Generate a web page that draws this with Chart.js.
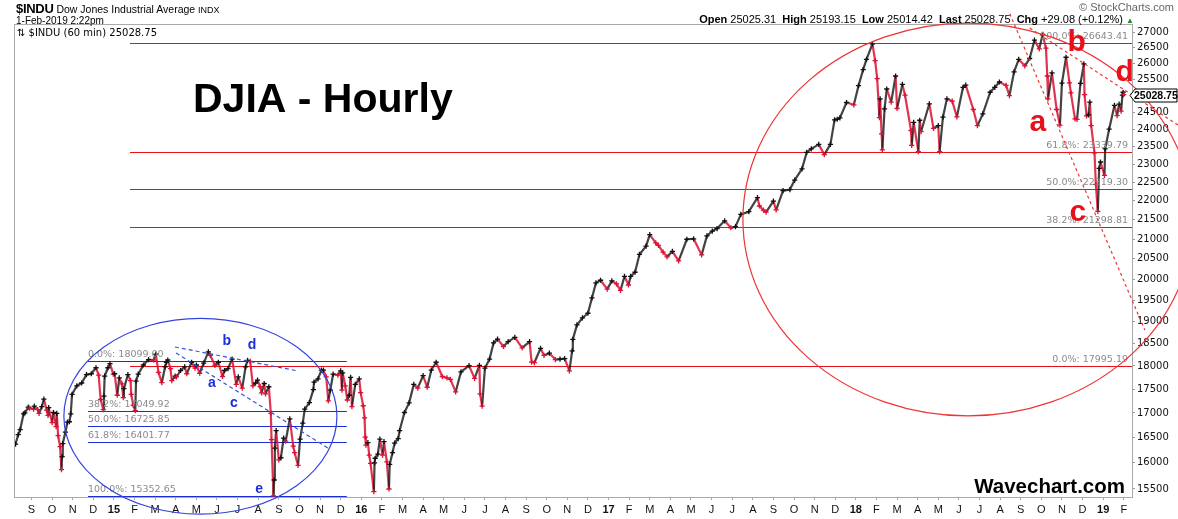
<!DOCTYPE html>
<html>
<head>
<meta charset="utf-8">
<title>DJIA - Hourly</title>
<script src="https://cdn.jsdelivr.net/npm/chart.js@4.4.1/dist/chart.umd.min.js"></script>
<style>
  html, body { margin: 0; padding: 0; background: #fff; }
  #wrap { position: relative; width: 1178px; height: 519px; overflow: hidden; font-family: "Liberation Sans", Arial, sans-serif; }
  #chart { position: absolute; left: 0; top: 0; }
  .hdr { position: absolute; white-space: nowrap; color: #000; line-height: 1; }
</style>
</head>
<body>
<div id="wrap">
  <canvas id="chart" width="1178" height="519"></canvas>
  <div class="hdr" style="left:16px;top:2px;font-size:10.5px;"><b style="font-size:13px;letter-spacing:-0.3px;">$INDU</b> Dow Jones Industrial Average <span style="font-size:9px;">INDX</span></div>
  <div class="hdr" style="left:16px;top:16px;font-size:10px;">1-Feb-2019 2:22pm</div>
  <div class="hdr" style="right:4px;top:2px;font-size:11px;color:#666;">© StockCharts.com</div>
  <div class="hdr" style="right:44px;top:14px;font-size:11px;"><b>Open</b> 25025.31&nbsp; <b>High</b> 25193.15&nbsp; <b>Low</b> 25014.42&nbsp; <b>Last</b> 25028.75&nbsp; <b>Chg</b> +29.08 (+0.12%) <span style="color:#2a8a2a;font-size:8px;">▲</span></div>
  <div class="hdr" style="left:17px;top:28px;font-size:10px;font-family:'DejaVu Sans',sans-serif;">⇅ $INDU (60 min) 25028.75</div>
</div>
<script>
// hourly closes, by year (MM-DD / price)
const days2014 = ['08-08','08-12','08-15','08-20','08-22','08-27','08-29',
  '09-04','09-05','09-10','09-12','09-16','09-19','09-23','09-25','09-26',
  '10-01','10-03','10-07','10-08','10-10','10-13','10-15','10-16','10-17','10-21','10-24','10-27','10-29','10-31',
  '11-07','11-14','11-21','11-28',
  '12-05','12-09','12-12','12-16','12-17','12-18','12-23','12-26','12-31'];
const prices2014 = [16370,16560,16660,16980,17000,17120,17100,
  17080,17140,17070,16990,17130,17290,17060,16950,17110,
  16800,17010,16720,16990,16540,16320,15870,16120,16380,16610,16810,16820,16980,17390,
  17570,17630,17810,17830,
  17960,17800,17280,17070,17350,17780,17960,18050,17820];

const days2015 = ['01-02','01-06','01-09','01-13','01-15','01-16','01-22','01-26','01-27','01-30',
  '02-02','02-03','02-06','02-13','02-20','02-27',
  '03-02','03-06','03-11','03-16','03-18','03-20','03-24','03-26','03-31',
  '04-02','04-08','04-14','04-17','04-24','04-29',
  '05-01','05-06','05-12','05-19','05-22','05-29',
  '06-03','06-09','06-12','06-17','06-23','06-29',
  '07-02','07-08','07-13','07-16','07-20','07-24','07-28','07-31',
  '08-04','08-06','08-10','08-12','08-17','08-20','08-21','08-24','08-25','08-26','08-28',
  '09-01','09-04','09-08','09-11','09-17','09-22','09-24','09-29',
  '10-02','10-06','10-09','10-16','10-22','10-23','10-29',
  '11-03','11-06','11-10','11-13','11-16','11-20','11-27',
  '12-01','12-03','12-04','12-08','12-11','12-14','12-16','12-18','12-23','12-29','12-31'];
const prices2015 = [17830,17370,17740,17610,17320,17510,17810,17680,17390,17160,
  17050,17670,17820,18020,18140,18130,
  18260,17860,17640,17980,18080,18130,17940,17680,17780,
  17760,17900,17980,17830,18080,17950,
  18020,17840,18060,18310,18230,18010,
  18080,17770,17900,17940,18150,17600,
  17760,17520,17980,18120,18100,17570,17630,17690,
  17550,17420,17620,17400,17550,16990,16460,15370,15670,16290,16640,
  16060,16100,16490,16430,16880,16330,16200,15950,
  16470,16790,17080,17215,17490,17650,17720,
  17910,17910,17760,17250,17480,17820,17800,
  17890,17480,17850,17570,17270,17370,17750,17130,17600,17720,17425];

const days2016 = ['01-04','01-06','01-07','01-08','01-11','01-13','01-15','01-20','01-21','01-22','01-26','01-29',
  '02-02','02-04','02-08','02-11','02-12','02-16','02-19','02-24','02-26',
  '03-04','03-11','03-18','03-24',
  '04-01','04-07','04-13','04-20','04-29',
  '05-06','05-11','05-19','05-27',
  '06-08','06-16','06-23','06-24','06-27',
  '07-01','07-08','07-14','07-20','07-29',
  '08-05','08-15','08-26',
  '09-06','09-09','09-13','09-22','09-27',
  '10-05','10-14','10-21','10-28',
  '11-04','11-08','11-09','11-15','11-23',
  '12-01','12-07','12-13','12-20','12-30'];
const prices2016 = [17150,16900,16510,16350,16400,16150,15990,15450,16000,16090,16170,16470,
  16150,16420,16020,15500,15970,16200,16390,16480,16640,
  17010,17210,17600,17520,
  17790,17540,17910,18080,17770,
  17740,17710,17440,17870,
  18005,17730,18010,17400,17140,
  17950,18150,18510,18595,18430,
  18540,18635,18400,
  18540,18085,18070,18390,18230,
  18280,18140,18150,18160,
  17890,18330,18590,18920,19080,
  19190,19550,19910,19975,19760];

const days2017 = ['01-06','01-13','01-19','01-25','01-31',
  '02-03','02-09','02-15','02-24',
  '03-01','03-10','03-14','03-21','03-27',
  '04-04','04-13','04-25',
  '05-05','05-17','05-25',
  '06-02','06-09','06-20','06-29',
  '07-06','07-14','07-26',
  '08-08','08-11','08-17','08-21',
  '09-01','09-05','09-15','09-25',
  '10-02','10-13','10-20','10-27',
  '11-07','11-15','11-24','11-30',
  '12-04','12-08','12-18','12-29'];
const prices2017 = [19960,19885,19730,20070,19860,
  20070,20170,20610,20820,
  21115,20900,20840,20670,20550,
  20690,20450,20995,
  21005,20600,21080,
  21205,21270,21470,21290,
  21320,21640,21710,
  22085,21860,21750,21700,
  21990,21755,22270,22300,
  22560,22870,23330,23430,
  23560,23270,23560,24270,
  24290,24330,24790,24720];

const days2018 = ['01-05','01-12','01-17','01-26','01-30',
  '02-02','02-05','02-06','02-08','02-09','02-12','02-15','02-21','02-27',
  '03-01','03-09','03-13','03-22','03-23','03-26',
  '04-02','04-04','04-06','04-18','04-24',
  '05-01','05-03','05-08','05-14','05-22','05-29',
  '06-07','06-11','06-22','06-28',
  '07-06','07-17','07-24','07-31',
  '08-10','08-15','08-22','08-29',
  '09-07','09-14','09-21','09-28',
  '10-03','10-08','10-10','10-11','10-17','10-24','10-29',
  '11-01','11-07','11-12','11-14','11-20','11-23','11-28',
  '12-03','12-04','12-07','12-10','12-12','12-14','12-19','12-21','12-24','12-26','12-28'];
const prices2018 = [25300,25800,26120,26620,26080,
  25520,24340,24900,23860,23400,24600,25200,24800,25600,
  24610,25340,25010,23960,23530,24200,
  23350,24260,23930,24750,24020,
  24100,23350,24350,24900,24830,24360,
  25250,25320,24580,24100,
  24450,25100,25250,25415,
  25310,25000,25730,26120,
  25920,26150,26740,26460,
  26930,26480,25600,24900,25700,24580,24120,
  25380,26190,25390,25080,24300,24285,25370,
  25980,25030,24390,24420,24800,24100,23320,22440,21720,22880,23060];

const days2019 = ['01-03','01-04','01-10','01-18','01-22','01-25','01-28','01-30','01-31','02-01'];
const prices2019 = [22690,23430,24000,24700,24400,24740,24530,25010,25100,25028.75];

// axis ticks
const xTickLabels = ['S','O','N','D',
  '15','F','M','A','M','J','J','A','S','O','N','D',
  '16','F','M','A','M','J','J','A','S','O','N','D',
  '17','F','M','A','M','J','J','A','S','O','N','D',
  '18','F','M','A','M','J','J','A','S','O','N','D',
  '19','F'];
const xFirstTick = -4; // Sep 2014, in months from Jan 2015
const yTicks = [15500,16000,16500,17000,17500,18000,18500,19000,19500,20000,20500,21000,
  21500,22000,22500,23000,23500,24000,24500,25000,25500,26000,26500,27000];

// Fibonacci levels
const redFibLevels = [26643.41, 23339.79, 22319.30, 21298.81, 17995.19];
const redFibNames = ['100.0%', '61.8%', '50.0%', '38.2%', '0.0%'];
const blueFibLevels = [18099.00, 17049.92, 16725.85, 16401.77, 15352.65];
const blueFibNames = ['0.0%', '38.2%', '50.0%', '61.8%', '100.0%'];

const RED = '#e8101a';
const BLUE = '#1c2fd6';
const DATA_RED = '#dd1133';
const DATA_BLACK = '#111';

function toMonth(s) {
  const [yy, mm, dd] = s.split('-').map(Number);
  return (yy - 2015) * 12 + (mm - 1) + (dd - 1) / new Date(yy, mm, 0).getDate();
}

const allDays = [].concat(
  days2014.map(d => '2014-' + d), days2015.map(d => '2015-' + d), days2016.map(d => '2016-' + d),
  days2017.map(d => '2017-' + d), days2018.map(d => '2018-' + d), days2019.map(d => '2019-' + d));
const allPrices = [].concat(prices2014, prices2015, prices2016, prices2017, prices2018, prices2019);
const points = allDays.map((d, i) => ({ x: toMonth(d), y: allPrices[i] }));

// annotation geometry, in chart units (months / price)
const redSpan = [0.78, 49.4];
const blueSpan = [-1.26, 11.3];
const redEllipse = { x0: 30.52, x1: 52.36, top: 27300, bottom: 16940 };
const blueEllipse = { x0: -2.43, x1: 10.82, top: 19070, bottom: 15034 };
const blueTrends = [[[2.96, 18419], [8.93, 17890]], [[3.01, 18285], [10.38, 16292]]];
const redTrends = [[[43.47, 27612], [50.02, 18805]], [[44.44, 27136], [51.63, 24121]]];
const redWaves = [['a', 44.83, 24182], ['b', 46.72, 26655], ['c', 46.77, 21677], ['d', 49.05, 25696]];
const blueWaves = [['a', 4.75, 17631], ['b', 5.48, 18554], ['c', 5.82, 17207], ['d', 6.70, 18464], ['e', 7.04, 15500]];

const overlay = {
  id: 'overlay',
  beforeDatasetsDraw(chart) {
    const { ctx, chartArea: a, scales: { x, y } } = chart;
    ctx.save();
    ctx.lineWidth = 1.2;
    // red fib lines
    ctx.strokeStyle = RED;
    const rx0 = x.getPixelForValue(redSpan[0]), rx1 = a.right;
    redFibLevels.forEach(v => {
      const py = Math.round(y.getPixelForValue(v)) + 0.5;
      ctx.beginPath(); ctx.moveTo(rx0, py); ctx.lineTo(rx1, py); ctx.stroke();
    });
    // blue fib lines
    ctx.strokeStyle = BLUE;
    const bx0 = x.getPixelForValue(blueSpan[0]), bx1 = x.getPixelForValue(blueSpan[1]);
    blueFibLevels.forEach(v => {
      const py = Math.min(Math.round(y.getPixelForValue(v)), a.bottom - 1) + 0.5;
      ctx.beginPath(); ctx.moveTo(bx0, py); ctx.lineTo(bx1, py); ctx.stroke();
    });
    ctx.restore();
  },
  afterDraw(chart) {
    const { ctx, chartArea: a, scales: { x, y } } = chart;
    ctx.save();
    // plot frame
    ctx.strokeStyle = '#aaa';
    ctx.lineWidth = 1;
    ctx.strokeRect(a.left + 0.5, a.top + 0.5, a.right - a.left, a.bottom - a.top);

    // fib labels
    ctx.font = '9.5px "DejaVu Sans", sans-serif';
    ctx.fillStyle = '#8a8a8a';
    ctx.textBaseline = 'alphabetic';
    ctx.textAlign = 'right';
    redFibLevels.forEach((v, i) => {
      ctx.fillText(redFibNames[i] + ': ' + v.toFixed(2), a.right - 4, y.getPixelForValue(v) - 4);
    });
    ctx.textAlign = 'left';
    const bx0 = x.getPixelForValue(blueSpan[0]);
    blueFibLevels.forEach((v, i) => {
      ctx.fillText(blueFibNames[i] + ': ' + v.toFixed(2), bx0, Math.min(y.getPixelForValue(v), a.bottom - 1) - 4);
    });

    // ellipses
    const drawEllipse = (e, color) => {
      const px0 = x.getPixelForValue(e.x0), px1 = x.getPixelForValue(e.x1);
      const pt = y.getPixelForValue(e.top), pb = y.getPixelForValue(e.bottom);
      ctx.beginPath();
      ctx.ellipse((px0 + px1) / 2, (pt + pb) / 2, (px1 - px0) / 2, (pb - pt) / 2, 0, 0, Math.PI * 2);
      ctx.strokeStyle = color;
      ctx.lineWidth = 1.2;
      ctx.stroke();
    };
    drawEllipse(blueEllipse, '#3344dd');
    drawEllipse(redEllipse, '#ee3333');

    // dashed trend lines
    const drawTrend = (seg, color, dash) => {
      ctx.beginPath();
      ctx.setLineDash(dash);
      ctx.moveTo(x.getPixelForValue(seg[0][0]), y.getPixelForValue(seg[0][1]));
      ctx.lineTo(x.getPixelForValue(seg[1][0]), y.getPixelForValue(seg[1][1]));
      ctx.strokeStyle = color;
      ctx.lineWidth = 1.2;
      ctx.stroke();
      ctx.setLineDash([]);
    };
    blueTrends.forEach(s => drawTrend(s, '#3355dd', [4, 3]));
    redTrends.forEach(s => drawTrend(s, '#ee3333', [3, 3]));

    // wave letters
    ctx.textAlign = 'center';
    ctx.textBaseline = 'middle';
    ctx.font = 'bold 30px "Liberation Sans", Arial, sans-serif';
    ctx.fillStyle = RED;
    redWaves.forEach(([t, m, p]) => ctx.fillText(t, x.getPixelForValue(m), y.getPixelForValue(p)));
    ctx.font = 'bold 14px "Liberation Sans", Arial, sans-serif';
    ctx.fillStyle = BLUE;
    blueWaves.forEach(([t, m, p]) => ctx.fillText(t, x.getPixelForValue(m), y.getPixelForValue(p)));

    // titles
    ctx.fillStyle = '#000';
    ctx.textBaseline = 'alphabetic';
    ctx.textAlign = 'left';
    ctx.font = 'bold 41px "Liberation Sans", Arial, sans-serif';
    ctx.fillText('DJIA - Hourly', a.left + 179, a.top + 88);
    ctx.textAlign = 'right';
    ctx.font = 'bold 20.5px "Liberation Sans", Arial, sans-serif';
    ctx.fillText('Wavechart.com', a.right - 7, a.bottom - 4);

    // last price tag on the axis
    const last = allPrices[allPrices.length - 1];
    const py = Math.round(y.getPixelForValue(last)) + 0.5;
    const tx = a.right - 2;
    ctx.beginPath();
    ctx.moveTo(tx, py);
    ctx.lineTo(tx + 5, py - 6.5);
    ctx.lineTo(1177, py - 6.5);
    ctx.lineTo(1177, py + 6.5);
    ctx.lineTo(tx + 5, py + 6.5);
    ctx.closePath();
    ctx.fillStyle = '#fff';
    ctx.fill();
    ctx.strokeStyle = '#000';
    ctx.lineWidth = 1;
    ctx.stroke();
    ctx.fillStyle = '#000';
    ctx.textAlign = 'left';
    ctx.textBaseline = 'middle';
    ctx.font = 'bold 10.5px "Liberation Sans", Arial, sans-serif';
    ctx.fillText(last.toFixed(2), tx + 4, py + 0.5);
    ctx.restore();
  }
};

new Chart(document.getElementById('chart'), {
  type: 'line',
  data: {
    datasets: [{
      data: points,
      borderColor: DATA_BLACK,
      borderWidth: 2.2,
      borderJoinStyle: 'round',
      tension: 0,
      pointStyle: 'cross',
      pointRadius: 2.6,
      pointBorderWidth: 1.3,
      pointBorderColor: ctx => {
        if (ctx.type !== 'data') return DATA_BLACK;
        const d = ctx.dataset.data, i = ctx.dataIndex;
        return i > 0 && d[i].y < d[i - 1].y ? DATA_RED : DATA_BLACK;
      },
      segment: {
        borderColor: ctx => ctx.p1.parsed.y < ctx.p0.parsed.y ? 'rgba(221,17,51,0.85)' : 'rgba(20,20,20,0.8)'
      }
    }]
  },
  options: {
    responsive: false,
    animation: false,
    layout: { padding: { left: 14, top: 24, right: 0, bottom: 0 } },
    plugins: { legend: { display: false }, tooltip: { enabled: false } },
    scales: {
      x: {
        type: 'linear',
        min: -4.85,
        max: 49.4,
        afterFit: axis => { axis.height = 22; },
        afterBuildTicks: axis => {
          axis.ticks = xTickLabels.map((l, i) => ({ value: xFirstTick + i }));
        },
        grid: { drawOnChartArea: false, drawTicks: true, tickLength: 3, color: '#aaa' },
        border: { color: '#aaa' },
        ticks: {
          autoSkip: false,
          maxRotation: 0,
          padding: 3,
          color: '#111',
          callback: v => xTickLabels[Math.round(v) - xFirstTick],
          font: ctx => ({
            family: '"Liberation Sans", Arial, sans-serif',
            size: 11,
            weight: ctx.tick && /\d/.test(ctx.tick.label) ? 'bold' : 'normal'
          })
        }
      },
      y: {
        type: 'logarithmic',
        position: 'right',
        min: 15350,
        max: 27270,
        afterFit: axis => { axis.width = 46; },
        afterBuildTicks: axis => {
          axis.ticks = yTicks.map(v => ({ value: v }));
        },
        grid: { drawOnChartArea: false, drawTicks: true, tickLength: 3, color: '#999' },
        border: { color: '#aaa' },
        ticks: {
          padding: 2,
          color: '#111',
          font: { family: '"DejaVu Sans", sans-serif', size: 10 },
          callback: v => String(v)
        }
      }
    }
  },
  plugins: [overlay]
});
</script>
</body>
</html>
